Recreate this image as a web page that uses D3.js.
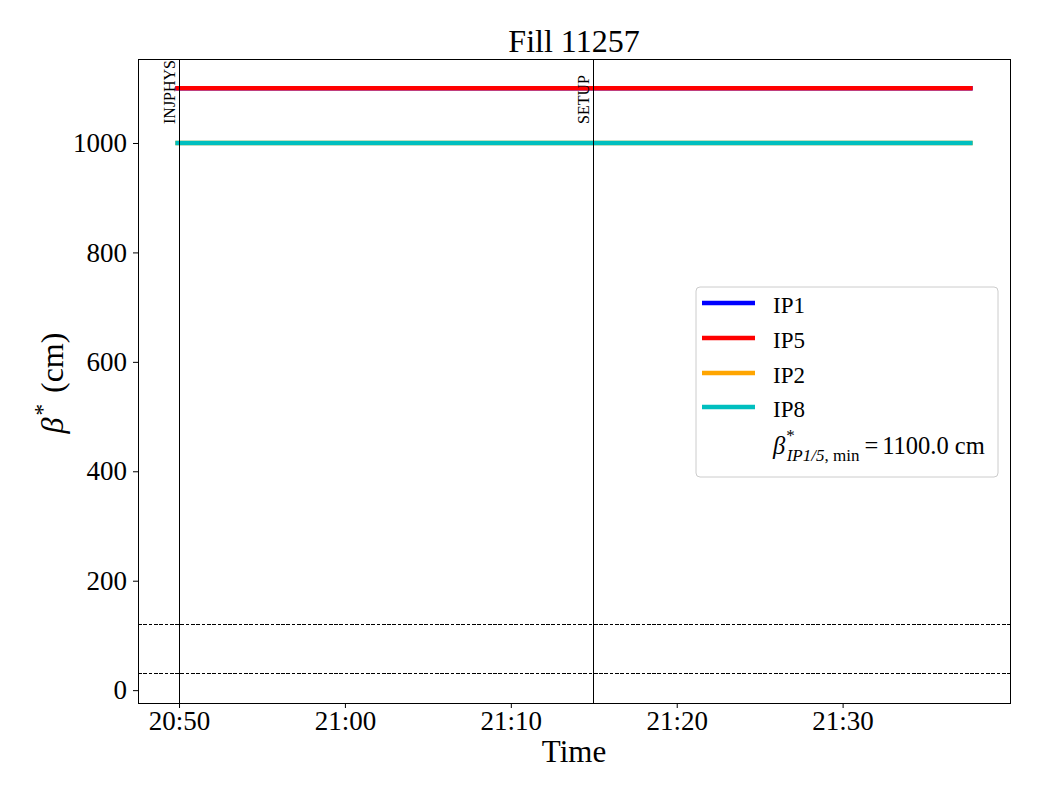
<!DOCTYPE html>
<html>
<head>
<meta charset="utf-8">
<script src="https://cdn.jsdelivr.net/npm/d3@7"></script>
<style>
  body { margin: 0; background: #fff; }
  svg text { font-family: "Liberation Serif", "DejaVu Serif", serif; fill: #000; }
</style>
</head>
<body>
<svg id="chart" width="1040" height="800"></svg>
<script>
// ---- data ----
const title = "Fill 11257";
const seriesNames = ["IP1", "IP5", "IP2", "IP8"];
const seriesColors = ["#0000ff", "#ff0000", "#ffa500", "#00bfbf"];
const seriesTimes = ["2024-01-01T20:49:55Z", "2024-01-01T21:37:42Z"];
const seriesValues = [
  [1100, 1100],   // IP1
  [1100, 1100],   // IP5
  [1000, 1000],   // IP2
  [1000, 1000]    // IP8
];
const refLevels = [120, 30];
const modeTimes = ["2024-01-01T20:50:00Z", "2024-01-01T21:15:00Z"];
const modeNames = ["INJPHYS", "SETUP"];
const xTickTimes = ["2024-01-01T20:50:00Z", "2024-01-01T21:00:00Z", "2024-01-01T21:10:00Z",
                    "2024-01-01T21:20:00Z", "2024-01-01T21:30:00Z"];
const yTicks = [0, 200, 400, 600, 800, 1000];
const betaMin = 1100.0;

// ---- layout ----
const svg = d3.select("#chart");
const L = 138, R = 1010, T = 59, B = 703;

const tStart = new Date(seriesTimes[0]), tEnd = new Date(seriesTimes[1]);
const span = tEnd - tStart;
const x = d3.scaleUtc()
  .domain([new Date(+tStart - 0.05 * span), new Date(+tEnd + 0.05 * span)])
  .range([L, R]);
const yMin = d3.min(refLevels), yMax = d3.max(seriesValues.flat());
const yPad = 0.05 * (yMax - yMin);
const y = d3.scaleLinear().domain([yMin - yPad, yMax + yPad]).range([B, T]);

// clip
svg.append("clipPath").attr("id", "clip").append("rect")
  .attr("x", L).attr("y", T).attr("width", R - L).attr("height", B - T);
const plot = svg.append("g").attr("clip-path", "url(#clip)");

// data lines
const line = d3.line().x(d => x(d[0])).y(d => y(d[1]));
seriesValues.forEach((vals, i) => {
  const pts = seriesTimes.map((t, j) => [new Date(t), vals[j]]);
  plot.append("path").datum(pts)
    .attr("d", line)
    .attr("fill", "none")
    .attr("stroke", seriesColors[i])
    .attr("stroke-width", 4.6)
    .attr("stroke-linecap", "square");
});

// reference dashed lines
refLevels.forEach(v => {
  plot.append("line")
    .attr("x1", L).attr("x2", R).attr("y1", y(v)).attr("y2", y(v))
    .attr("stroke", "#000").attr("stroke-width", 1)
    .attr("shape-rendering", "crispEdges")
    .attr("stroke-dasharray", "3.7,1.6");
});

// mode vertical lines + labels
modeTimes.forEach((t, i) => {
  const xv = x(new Date(t));
  plot.append("line")
    .attr("x1", xv).attr("x2", xv).attr("y1", T).attr("y2", B)
    .attr("stroke", "#000").attr("stroke-width", 1)
    .attr("shape-rendering", "crispEdges");
  svg.append("text")
    .attr("transform", `translate(${xv - 4.5},124) rotate(-90)`)
    .attr("text-anchor", "start")
    .attr("font-size", 16)
    .text(modeNames[i]);
});

// axes
const xAxis = d3.axisBottom(x)
  .tickValues(xTickTimes.map(t => new Date(t)))
  .tickFormat(d3.utcFormat("%H:%M"))
  .tickSize(5).tickPadding(3);
const gx = svg.append("g").attr("transform", `translate(0,${B})`).call(xAxis)
  .attr("font-family", null);
gx.select(".domain").remove();
gx.selectAll("text").attr("font-size", 27);
gx.selectAll("line").attr("stroke", "#000");

const yAxis = d3.axisLeft(y).tickValues(yTicks).tickFormat(d3.format("d")).tickSize(5).tickPadding(6);
const gy = svg.append("g").attr("transform", `translate(${L},0)`).call(yAxis)
  .attr("font-family", null);
gy.select(".domain").remove();
gy.selectAll("text").attr("font-size", 27);
gy.selectAll("line").attr("stroke", "#000");

// frame
svg.append("rect").attr("x", L).attr("y", T).attr("width", R - L).attr("height", B - T)
  .attr("fill", "none").attr("stroke", "#000").attr("stroke-width", 1)
  .attr("shape-rendering", "crispEdges");

// title and labels
svg.append("text").attr("x", (L + R) / 2).attr("y", 52)
  .attr("text-anchor", "middle").attr("font-size", 32).text(title);
svg.append("text").attr("x", (L + R) / 2).attr("y", 762)
  .attr("text-anchor", "middle").attr("font-size", 31).text("Time");
const yl = svg.append("text")
  .attr("transform", `translate(63,${(T + B) / 2 + 2}) rotate(-90)`)
  .attr("text-anchor", "middle").attr("font-size", 32);
yl.append("tspan").attr("font-style", "italic").text("β");
yl.append("tspan").attr("font-size", 23).attr("dy", -13).attr("dx", 2).text("*");
yl.append("tspan").attr("dy", 13).attr("dx", 3).text(" (cm)");

// legend
const lg = svg.append("g");
lg.append("rect").attr("x", 696).attr("y", 287).attr("width", 302).attr("height", 190)
  .attr("rx", 4).attr("fill", "#fff").attr("fill-opacity", 0.8)
  .attr("stroke", "#cccccc").attr("stroke-width", 1);
const rowY = [303, 338, 373, 407];
seriesNames.forEach((n, i) => {
  lg.append("line").attr("x1", 702).attr("x2", 755).attr("y1", rowY[i]).attr("y2", rowY[i])
    .attr("stroke", seriesColors[i]).attr("stroke-width", 4.6);
  lg.append("text").attr("x", 773).attr("y", rowY[i] + 10).attr("font-size", 23).text(n);
});
const bt = lg.append("text").attr("x", 773).attr("y", 454).attr("font-size", 24.5);
bt.append("tspan").attr("font-style", "italic").text("β");
bt.append("tspan").attr("font-size", 17).attr("dy", -13).attr("dx", 1).text("*");
bt.append("tspan").attr("font-size", 17).attr("dy", 20).attr("dx", -8).attr("font-style", "italic").text("IP1/5");
bt.append("tspan").attr("font-size", 17).text(", min");
bt.append("tspan").attr("dy", -7).attr("dx", 5).text("=");
bt.append("tspan").attr("dx", 4).text("1100.0 cm");
</script>
</body>
</html>
